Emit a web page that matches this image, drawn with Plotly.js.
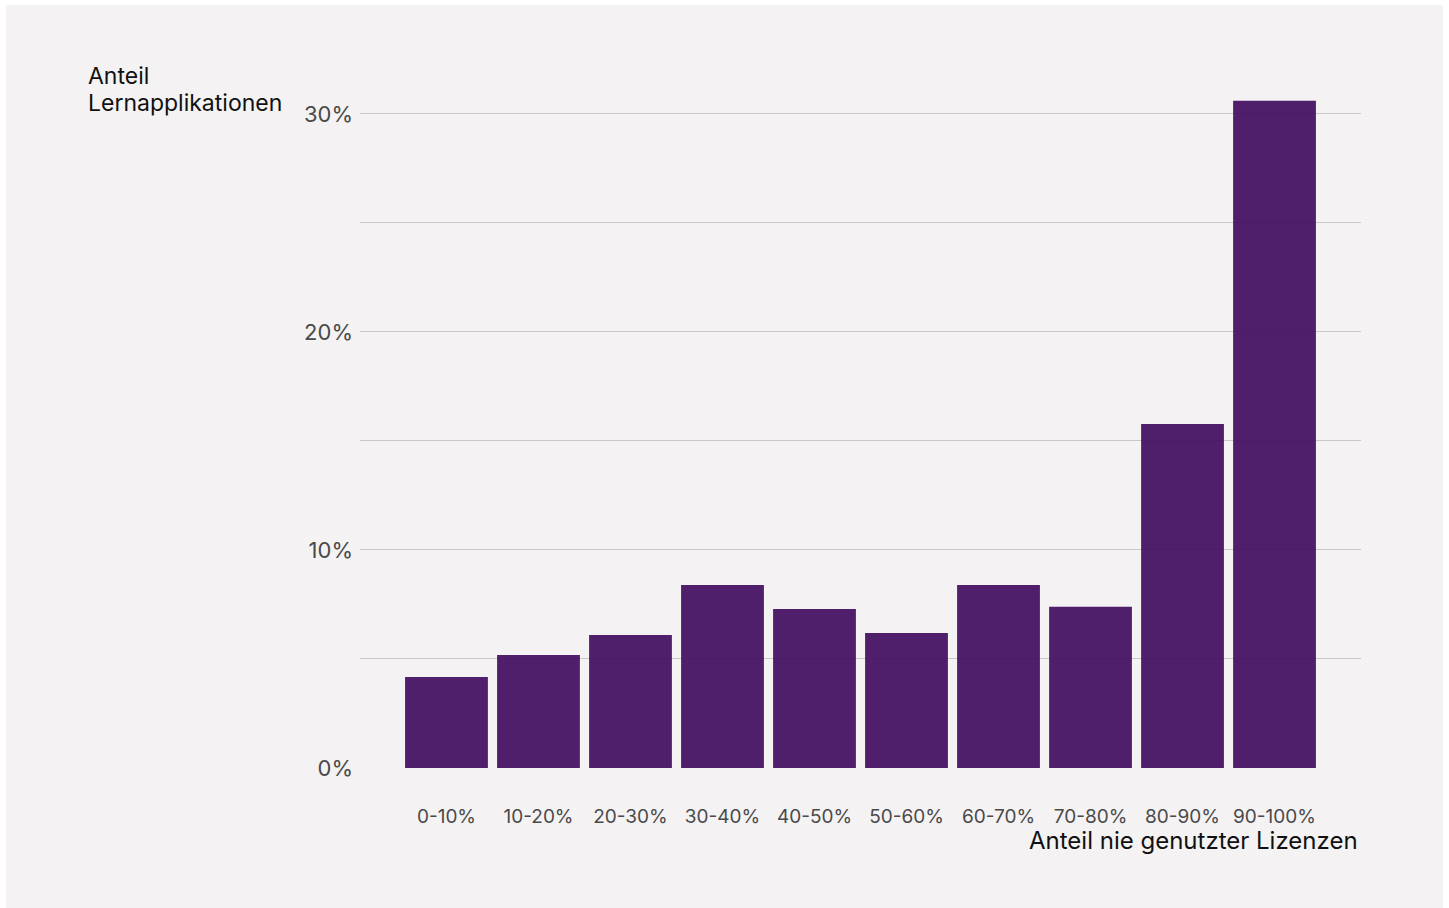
<!DOCTYPE html>
<html>
<head>
<meta charset="utf-8">
<script src="https://cdn.plot.ly/plotly-3.0.1.min.js"></script>
<style>
  html, body { margin: 0; padding: 0; background: #ffffff; }
  #chart { position: absolute; left: 6px; top: 5px; width: 1437px; height: 903px; }
</style>
</head>
<body>
<div id="chart"></div>
<script>
const categories = ["0-10%", "10-20%", "20-30%", "30-40%", "40-50%", "50-60%", "60-70%", "70-80%", "80-90%", "90-100%"];
const shareValues = [4.17, 5.18, 6.1, 8.39, 7.29, 6.19, 8.39, 7.39, 15.78, 30.6];
const yTickVals = [0, 5, 10, 15, 20, 25, 30];
const yTickText = ["0%", "", "10%", "", "20%", "", "30%"];
const xAxisTitle = "Anteil nie genutzter Lizenzen";
const yAxisTitleLines = ["Anteil", "Lernapplikationen"];

const FONT = "Inter, 'Noto Sans', sans-serif";

const trace = {
  type: "bar",
  x: categories.map((c, i) => i),
  y: shareValues,
  marker: { color: "#461364", opacity: 0.95 },
  hoverinfo: "skip"
};

const yTitleShifts = [32, 5];

const layout = {
  width: 1437,
  height: 903,
  paper_bgcolor: "#f4f2f3",
  plot_bgcolor: "#f4f2f3",
  margin: { l: 354, r: 82, t: 87, b: 140 },
  bargap: 0.1,
  showlegend: false,
  font: { family: FONT, color: "#4a4a4a", size: 18 },
  xaxis: {
    range: [-0.94, 9.94],
    tickmode: "array",
    tickvals: categories.map((c, i) => i),
    ticktext: categories,
    showgrid: false,
    zeroline: false,
    showline: false,
    ticks: "",
    ticklabelstandoff: 35,
    tickfont: { family: FONT, size: 19, color: "#4a4a4a" },
    fixedrange: true
  },
  yaxis: {
    range: [0, 31],
    tickmode: "array",
    tickvals: yTickVals,
    ticktext: yTickText,
    showgrid: true,
    gridcolor: "#c9c7c9",
    gridwidth: 1,
    zeroline: false,
    showline: false,
    ticks: "",
    ticklabelstandoff: 6,
    tickfont: { family: FONT, size: 22, color: "#4a4a4a" },
    fixedrange: true
  },
  annotations: [
    {
      text: xAxisTitle,
      xref: "paper", yref: "paper",
      x: 1, y: 0,
      xanchor: "right", yanchor: "middle",
      xshift: -1,
      yshift: -72,
      showarrow: false,
      font: { family: FONT, size: 24, color: "#111111" }
    }
  ].concat(yAxisTitleLines.map((line, i) => ({
    text: line,
    xref: "paper", yref: "paper",
    x: 0, y: 1,
    xanchor: "left", yanchor: "top",
    align: "left",
    xshift: -274,
    yshift: yTitleShifts[i],
    showarrow: false,
    font: { family: FONT, size: 23, color: "#111111" }
  })))
};

Plotly.newPlot("chart", [trace], layout, { displayModeBar: false, staticPlot: true });
</script>
</body>
</html>
